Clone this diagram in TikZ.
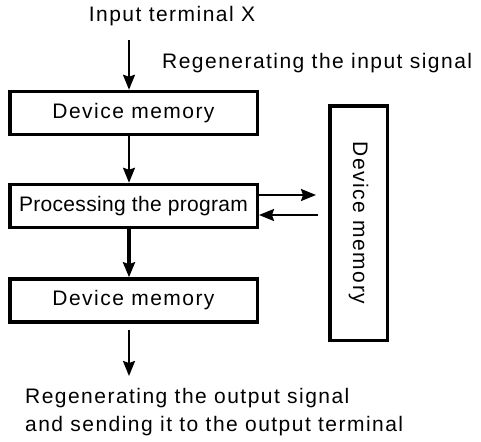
\documentclass[tikz,border=0pt]{standalone}
\usepackage{fontspec}
\setmainfont{Liberation Sans}[LetterSpace=7]
\usetikzlibrary{arrows.meta,positioning}
\tikzset{
	membox/.style={draw,line width=3.5pt,minimum width=247.5pt,minimum height=43pt,inner sep=0pt},
	flow/.style={line width=2pt,-{Stealth[length=15pt,width=12pt,inset=2pt]}},
	txt/.style={inner sep=0pt}
}
\begin{document}
\begin{tikzpicture}[x=1pt,y=-1pt,font=\fontsize{21}{28.5}\selectfont]
		\useasboundingbox (0,0) rectangle (481,441);
		\node[txt] (inp) at (172,16) {Input terminal X};
		\node[txt,anchor=west] (regin) at (162,63) {Regenerating the input signal};
		\node[membox] (dm1) at (133.5,113) {Device memory};
		\node[membox] (proc) at (133.5,206) {\addfontfeature{LetterSpace=1.5}Processing the program};
		\node[membox] (dm2) at (133.5,300.5) {Device memory};
		\node[membox,minimum width=234.5pt,minimum height=57.5pt,rotate=-90] (dmr) at (358.5,223) {Device memory};
		\node[txt,anchor=north west,align=left] (regout) at (25,388) {Regenerating the output signal\\and sending it to the output terminal};
		\coordinate (top) at (129,40);
		\coordinate (out) at (129,330);
		\coordinate (bot) at (129,376);
		\coordinate (wr) at (316,195);
		\coordinate (rd) at (318,215);
		\draw[flow] (top) -- (dm1.north -| top);
		\draw[flow] (dm1.south -| top) -- (proc.north -| top);
		\draw[flow,line width=3.5pt] (proc.south -| top) -- (dm2.north -| top);
		\draw[flow] (out) -- (bot);
		\draw[flow] (proc.east |- wr) -- (wr);
		\draw[flow] (rd) -- (proc.east |- rd);
	\end{tikzpicture}
\end{document}
